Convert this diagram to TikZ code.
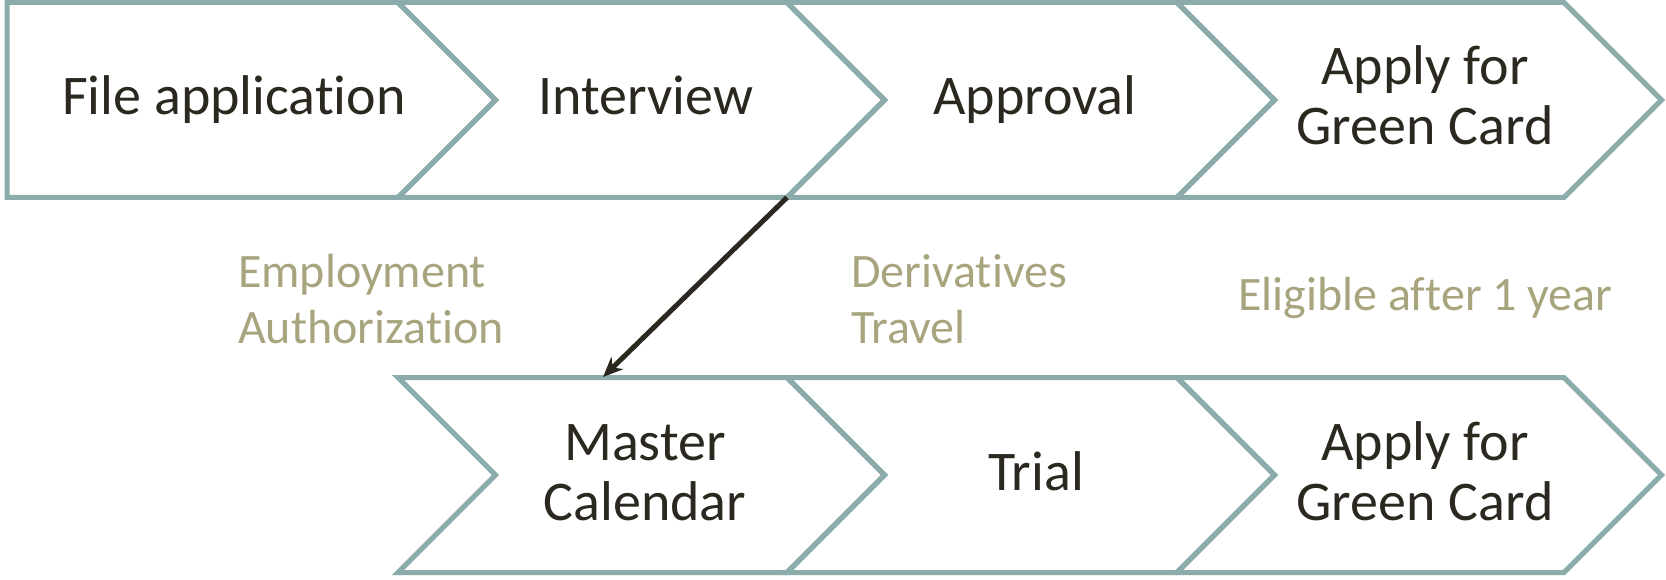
\documentclass[tikz,border=0pt]{standalone}
\usepackage{fontspec}
\setmainfont{Carlito}[Ligatures=NoCommon]
\usetikzlibrary{arrows.meta}
\definecolor{chevline}{RGB}{139,172,171}
\definecolor{txt}{RGB}{43,40,32}
\definecolor{lbl}{RGB}{168,164,126}
\begin{document}
\begin{tikzpicture}[x=1pt,y=-1pt,
 chev/.style={draw=chevline, line width=5pt, line join=miter},
 stepname/.style={text=txt, font=\fontsize{56}{60}\selectfont, align=center, inner sep=0pt, anchor=base},
 note/.style={text=lbl, font=\fontsize{48}{56}\selectfont, align=left, inner sep=0pt, anchor=base west},
 arr/.style={draw=txt, line width=5pt, -{Stealth[length=20pt,width=17pt]}}]
\useasboundingbox (0,0) rectangle (1666,580);
% top row
\draw[chev] (7,2.5) -- (398,2.5) -- (495.5,100) -- (398,197.5) -- (7,197.5) -- cycle;
\draw[chev] (398,2.5) -- (787,2.5) -- (884.5,100) -- (787,197.5) -- (398,197.5) -- (495.5,100) -- cycle;
\draw[chev] (787,2.5) -- (1177,2.5) -- (1274.5,100) -- (1177,197.5) -- (787,197.5) -- (884.5,100) -- cycle;
\draw[chev] (1177,2.5) -- (1564,2.5) -- (1661.5,100) -- (1564,197.5) -- (1177,197.5) -- (1274.5,100) -- cycle;
% bottom row
\draw[chev] (398,377.5) -- (787,377.5) -- (884.5,475) -- (787,572.5) -- (398,572.5) -- (495.5,475) -- cycle;
\draw[chev] (787,377.5) -- (1177,377.5) -- (1274.5,475) -- (1177,572.5) -- (787,572.5) -- (884.5,475) -- cycle;
\draw[chev] (1177,377.5) -- (1564,377.5) -- (1661.5,475) -- (1564,572.5) -- (1177,572.5) -- (1274.5,475) -- cycle;
% step texts (anchor = baseline of last line)
\node[stepname] (file) at (234,115) {File application};
\node[stepname] (interview) at (646,115) {Interview};
\node[stepname] (approval) at (1035,115) {Approval};
\node[stepname] (apply1) at (1425,145) {Apply for\\Green Card};
\node[stepname] (master) at (645,520) {Master\\Calendar};
\node[stepname] (trial) at (1036,490) {Trial};
\node[stepname] (apply2) at (1425,520) {Apply for\\Green Card};
% notes
\node[note] (ead) at (238,343) {Employment\\Authorization};
\node[note] (deriv) at (851,343) {Derivatives\\Travel};
\node[note] (elig) at (1238,310) {Eligible after 1 year};
% arrow
\coordinate (from) at (787,197.5);
\coordinate (to) at (603,377);
\draw[arr] (from) -- (to);
\end{tikzpicture}
\end{document}
